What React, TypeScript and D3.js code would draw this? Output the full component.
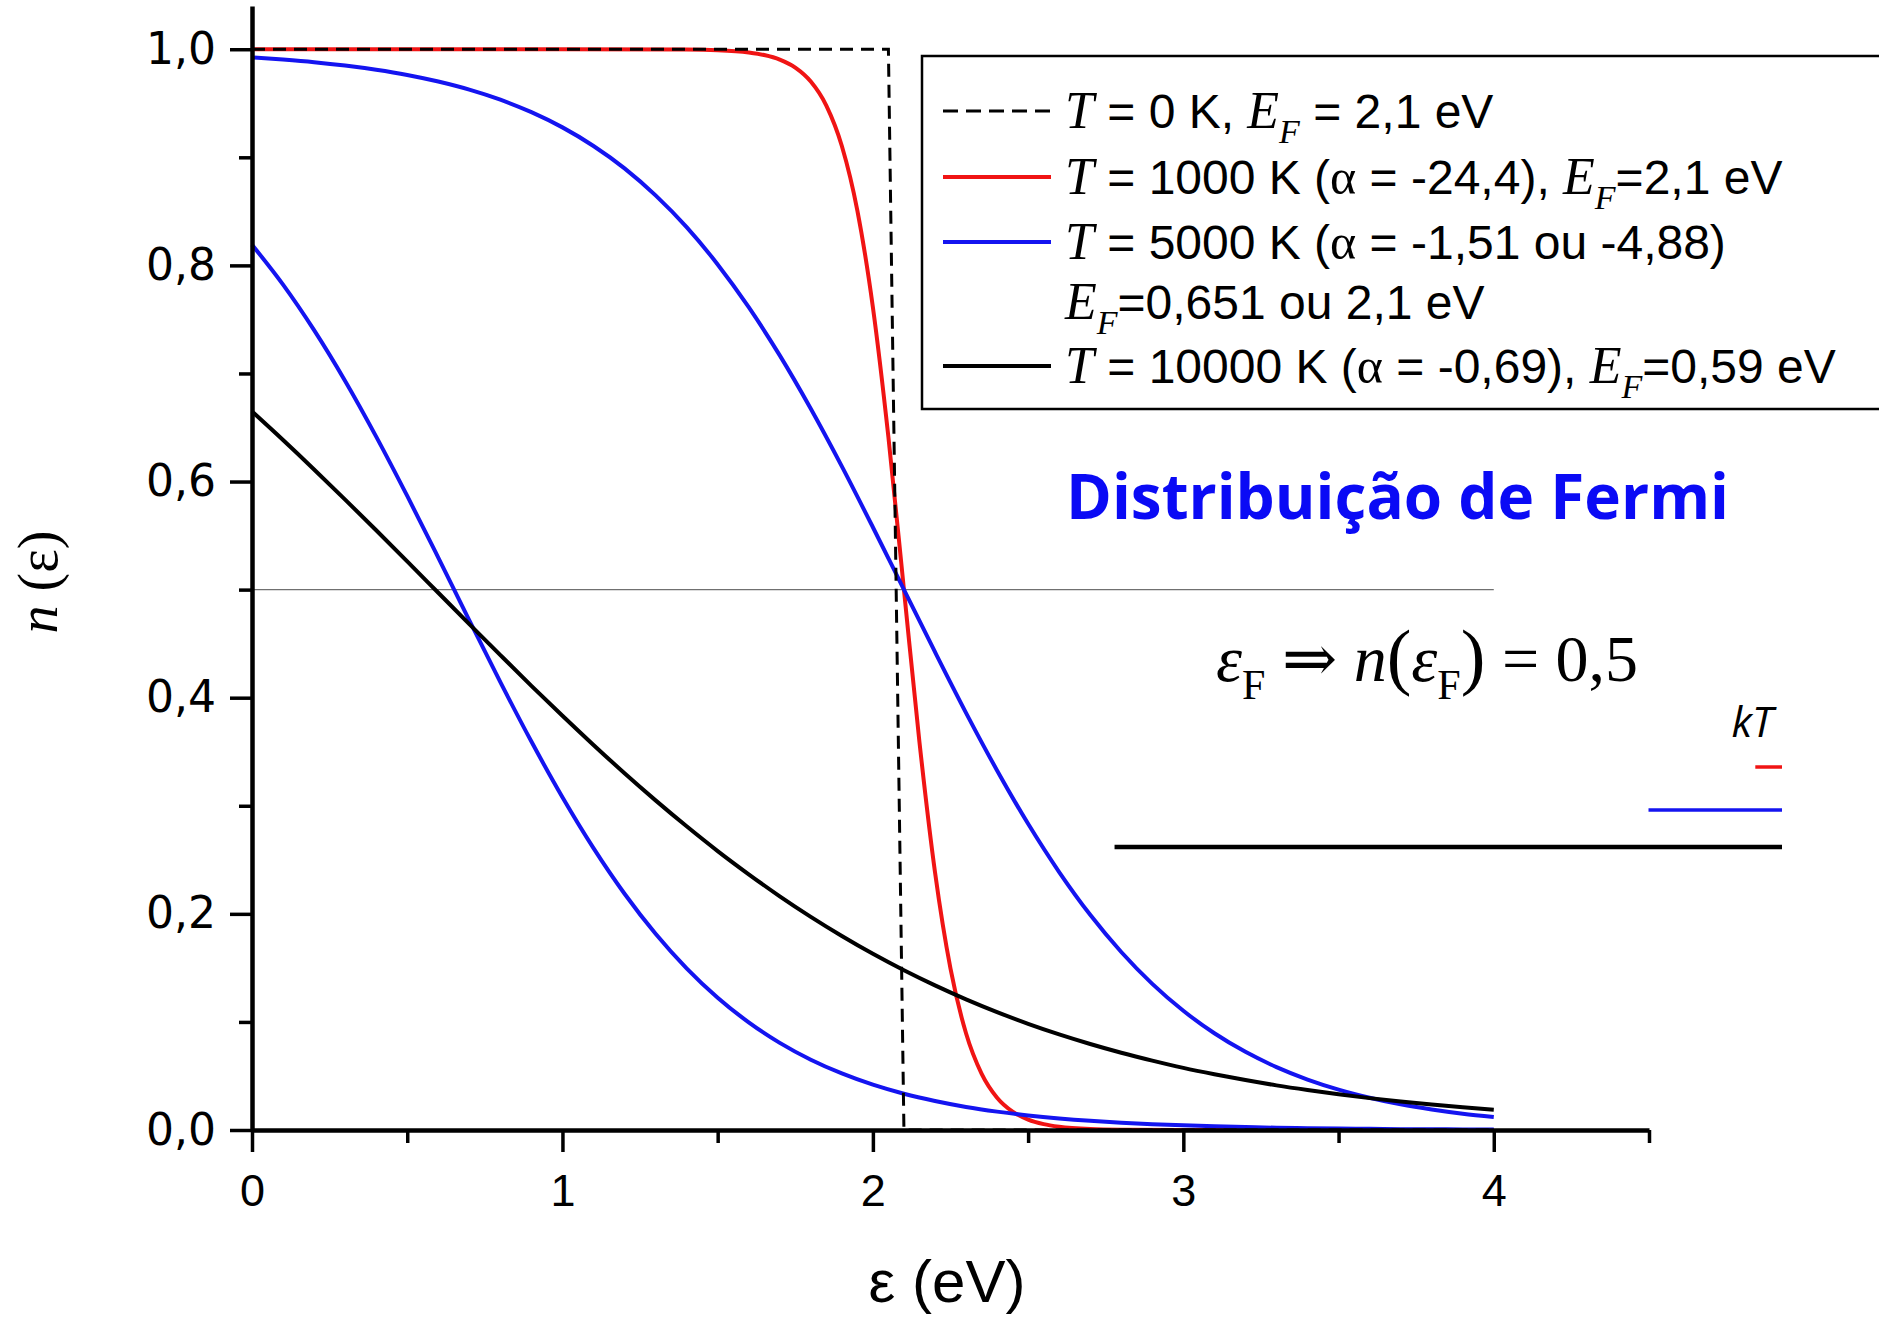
import React, { Component } from 'react';
import * as d3 from 'd3';

// energy grid (eV) shared by the 5000 K and 10000 K curves
const energies = [0, 0.1, 0.2, 0.3, 0.4, 0.5, 0.6, 0.7, 0.8, 0.9,
  1.0, 1.1, 1.2, 1.3, 1.4, 1.5, 1.6, 1.7, 1.8, 1.9,
  2.0, 2.1, 2.2, 2.3, 2.4, 2.5, 2.6, 2.7, 2.8, 2.9,
  3.0, 3.1, 3.2, 3.3, 3.4, 3.5, 3.6, 3.7, 3.8, 3.9, 4.0];

// T = 5000 K, EF = 2,1 eV
const n5000High = [0.9924, 0.9904, 0.988, 0.9849, 0.981, 0.9762, 0.9701, 0.9626, 0.9533, 0.9418,
  0.9277, 0.9105, 0.8898, 0.8648, 0.8354, 0.8009, 0.7613, 0.7167, 0.6673, 0.614,
  0.5577, 0.5, 0.4423, 0.386, 0.3327, 0.2833, 0.2387, 0.1991, 0.1647, 0.1352,
  0.1103, 0.0895, 0.0723, 0.0582, 0.0467, 0.0374, 0.0299, 0.0238, 0.019, 0.0151, 0.012];

// T = 5000 K, EF = 0,651 eV
const n5000Low = [0.8191, 0.7822, 0.7401, 0.6931, 0.6416, 0.5867, 0.5296, 0.4716, 0.4144, 0.3594,
  0.3079, 0.2608, 0.2186, 0.1816, 0.1496, 0.1224, 0.0996, 0.0806, 0.065, 0.0523,
  0.0419, 0.0335, 0.0268, 0.0213, 0.017, 0.0135, 0.0107, 0.0085, 0.0068, 0.0054,
  0.0043, 0.0034, 0.0027, 0.0021, 0.0017, 0.0013, 0.0011, 0.0008, 0.0007, 0.0005, 0.0004];

// T = 10000 K, EF = 0,59 eV
const n10000 = [0.6648, 0.6384, 0.6112, 0.5833, 0.5549, 0.5261, 0.4971, 0.4681, 0.4394, 0.411,
  0.3833, 0.3563, 0.3301, 0.305, 0.281, 0.2581, 0.2366, 0.2162, 0.1972, 0.1795,
  0.163, 0.1478, 0.1338, 0.1209, 0.1091, 0.0983, 0.0885, 0.0796, 0.0715, 0.0642,
  0.0575, 0.0516, 0.0462, 0.0413, 0.037, 0.0331, 0.0295, 0.0264, 0.0236, 0.021, 0.0188];

// T = 1000 K, EF = 2,1 eV (finer grid near the step)
const energies1000 = [0, 1.0, 1.4, 1.5, 1.6, 1.65, 1.7, 1.75, 1.8, 1.85, 1.9, 1.95, 2.0, 2.05,
  2.1, 2.15, 2.2, 2.25, 2.3, 2.35, 2.4, 2.45, 2.5, 2.55, 2.6, 2.7, 2.8, 3.0, 3.5, 4.0];
const n1000 = [1, 1, 0.9997, 0.9991, 0.997, 0.9946, 0.9904, 0.983, 0.9701, 0.9479, 0.9105, 0.8507, 0.7613, 0.6411,
  0.5, 0.3589, 0.2387, 0.1493, 0.0895, 0.0522, 0.0299, 0.017, 0.0096, 0.0054, 0.003, 0.0009, 0.0003, 0, 0, 0];

// T = 0 K step
const energies0 = [0, 2.05, 2.1, 4.0];
const n0 = [1, 1, 0, 0];

// kT bars as drawn (eV): 1000 K, 5000 K, 10000 K
const kTLengths = [0.086, 0.43, 2.15];

const yMajor = [0, 0.2, 0.4, 0.6, 0.8, 1.0];
const yMinor = [0.1, 0.3, 0.5, 0.7, 0.9];
const xMajor = [0, 1, 2, 3, 4];
const xMinor = [0.5, 1.5, 2.5, 3.5, 4.5];

// legend rows: [kind, text] pieces
const legendRows = [
  [['ti', 'T'], ['sans', ' = 0 K, '], ['ti', 'E'], ['sub', 'F'], ['sans', ' = 2,1 eV']],
  [['ti', 'T'], ['sans', ' = 1000 K ('], ['gr', 'α'], ['sans', ' = -24,4), '], ['ti', 'E'], ['sub', 'F'], ['sans', '=2,1 eV']],
  [['ti', 'T'], ['sans', ' = 5000 K ('], ['gr', 'α'], ['sans', ' = -1,51 ou -4,88)']],
  [['ti', 'E'], ['sub', 'F'], ['sans', '=0,651 ou 2,1 eV']],
  [['ti', 'T'], ['sans', ' = 10000 K ('], ['gr', 'α'], ['sans', ' = -0,69), '], ['ti', 'E'], ['sub', 'F'], ['sans', '=0,59 eV']]
];

const RED = '#f01414';
const BLUE = '#1414f0';

class FermiPlot extends Component {
  constructor(props) {
    super(props);
    this.myRef = React.createRef();
    this.width = 1879;
    this.height = 1317;
  }

  componentDidMount() {
    const root = d3.select(this.myRef.current);
    root.selectAll('*').remove();

    const svg = root.append('svg')
      .attr('width', this.width)
      .attr('height', this.height)
      .style('display', 'block');

    svg.append('rect').attr('width', this.width).attr('height', this.height).attr('fill', '#fff');

    const x = d3.scaleLinear().domain([0, 4.5]).range([252, 1649]);
    const y = d3.scaleLinear().domain([0, 1.04]).range([1130, 6]);

    const line = d3.line()
      .x(d => x(d[0]))
      .y(d => y(d[1]))
      .curve(d3.curveMonotoneX);

    // n = 0.5 guide
    svg.append('line')
      .attr('x1', x(0)).attr('x2', x(4))
      .attr('y1', y(0.5)).attr('y2', y(0.5))
      .attr('stroke', '#707070')
      .attr('stroke-width', 1.2);

    const series = [
      { xs: energies1000, ys: n1000, color: RED, w: 4 },
      { xs: energies, ys: n5000High, color: BLUE, w: 4 },
      { xs: energies, ys: n5000Low, color: BLUE, w: 4 },
      { xs: energies, ys: n10000, color: '#000', w: 4 }
    ];
    series.forEach(s => {
      svg.append('path')
        .datum(s.xs.map((e, i) => [e, s.ys[i]]))
        .attr('fill', 'none')
        .attr('stroke', s.color)
        .attr('stroke-width', s.w)
        .attr('stroke-linejoin', 'round')
        .attr('d', line);
    });

    svg.append('path')
      .datum(energies0.map((e, i) => [e, n0[i]]))
      .attr('fill', 'none')
      .attr('stroke', '#000')
      .attr('stroke-width', 3)
      .attr('stroke-dasharray', '13,8')
      .attr('d', d3.line().x(d => x(d[0])).y(d => y(d[1])));

    // axes
    const fmt = d => d3.format('.1f')(d).replace('.', ',');

    const yAxis = svg.append('g')
      .attr('transform', 'translate(' + x(0) + ',0)')
      .call(d3.axisLeft(y).tickValues(yMajor).tickSize(22).tickPadding(14).tickSizeOuter(0).tickFormat(fmt));
    yAxis.select('.domain').attr('stroke-width', 4.5);
    yAxis.selectAll('.tick line').attr('stroke-width', 3.5);
    yAxis.selectAll('.tick text')
      .attr('font-family', '"DejaVu Sans", sans-serif')
      .attr('font-size', 44)
      .attr('fill', '#000');

    const yMin = svg.append('g')
      .attr('transform', 'translate(' + x(0) + ',0)')
      .call(d3.axisLeft(y).tickValues(yMinor).tickSize(13).tickFormat(() => ''));
    yMin.select('.domain').remove();
    yMin.selectAll('.tick line').attr('stroke-width', 3.5);

    const xAxis = svg.append('g')
      .attr('transform', 'translate(0,' + y(0) + ')')
      .call(d3.axisBottom(x).tickValues(xMajor).tickSize(22).tickPadding(22).tickSizeOuter(0).tickFormat(d3.format('d')));
    xAxis.select('.domain').attr('stroke-width', 4.5);
    xAxis.selectAll('.tick line').attr('stroke-width', 3.5);
    xAxis.selectAll('.tick text')
      .attr('font-family', '"Liberation Sans", Arial, sans-serif')
      .attr('font-size', 45)
      .attr('fill', '#000');

    const xMin = svg.append('g')
      .attr('transform', 'translate(0,' + y(0) + ')')
      .call(d3.axisBottom(x).tickValues(xMinor).tickSize(13).tickFormat(() => ''));
    xMin.select('.domain').remove();
    xMin.selectAll('.tick line').attr('stroke-width', 3.5);

    // axis titles
    svg.append('text')
      .attr('x', 947).attr('y', 1302)
      .attr('text-anchor', 'middle')
      .attr('font-family', '"Liberation Sans", Arial, sans-serif')
      .attr('font-size', 60)
      .text('ε (eV)');

    const yl = svg.append('text')
      .attr('transform', 'translate(57,582) rotate(-90)')
      .attr('text-anchor', 'middle')
      .attr('font-family', '"Liberation Serif", serif')
      .attr('font-size', 56);
    yl.append('tspan').attr('font-style', 'italic').text('n');
    yl.append('tspan').text(' (ε)');

    // legend
    svg.append('rect')
      .attr('x', 922).attr('y', 56)
      .attr('width', 1000).attr('height', 353)
      .attr('fill', 'none')
      .attr('stroke', '#000')
      .attr('stroke-width', 2.5);

    const rowBase = [128, 194, 259, 319, 383];
    const sampleStyle = [
      { color: '#000', dash: '15,8' },
      { color: RED, dash: null },
      { color: BLUE, dash: null },
      null,
      { color: '#000', dash: null }
    ];

    legendRows.forEach((row, i) => {
      const s = sampleStyle[i];
      if (s) {
        svg.append('line')
          .attr('x1', 943).attr('x2', 1051)
          .attr('y1', rowBase[i] - 17).attr('y2', rowBase[i] - 17)
          .attr('stroke', s.color)
          .attr('stroke-width', s.dash ? 3 : 4)
          .attr('stroke-dasharray', s.dash);
      }
      const t = svg.append('text')
        .attr('x', 1065).attr('y', rowBase[i])
        .attr('font-family', '"Liberation Sans", Arial, sans-serif')
        .attr('font-size', 48);
      let shifted = false;
      row.forEach(([kind, str]) => {
        const sp = t.append('tspan').text(str);
        if (kind === 'ti') {
          sp.attr('font-family', '"Liberation Serif", serif').attr('font-style', 'italic').attr('font-size', 52);
        } else if (kind === 'gr') {
          sp.attr('font-family', '"Liberation Serif", serif').attr('font-size', 50);
        } else if (kind === 'sub') {
          sp.attr('font-family', '"Liberation Serif", serif').attr('font-style', 'italic')
            .attr('font-size', 34).attr('dy', 15);
          shifted = true;
          return;
        }
        if (shifted) {
          sp.attr('dy', -15);
          shifted = false;
        }
      });
    });

    // title
    svg.append('text')
      .attr('x', 1066).attr('y', 519)
      .attr('font-family', '"Open Sans", sans-serif')
      .attr('font-weight', 700)
      .attr('font-size', 62)
      .attr('fill', '#0a0af5')
      .text('Distribuição de Fermi');

    // εF => n(εF) = 0,5
    const f = svg.append('text')
      .attr('x', 1216).attr('y', 681)
      .attr('font-family', '"Liberation Serif", "DejaVu Serif", serif')
      .attr('font-size', 66);
    f.append('tspan').attr('font-style', 'italic').text('ε');
    f.append('tspan').attr('font-size', 42).attr('dy', 18).text('F');
    f.append('tspan').attr('dy', -18).text(' ⇒ ');
    f.append('tspan').attr('font-style', 'italic').text('n');
    f.append('tspan').attr('font-size', 74).text('(');
    f.append('tspan').attr('font-style', 'italic').text('ε');
    f.append('tspan').attr('font-size', 42).attr('dy', 18).text('F');
    f.append('tspan').attr('font-size', 74).attr('dy', -18).text(')');
    f.append('tspan').text(' = 0,5');

    // kT scale bars
    svg.append('text')
      .attr('x', 1773).attr('y', 737)
      .attr('text-anchor', 'end')
      .attr('font-family', '"Open Sans", sans-serif')
      .attr('font-style', 'italic')
      .attr('font-size', 42)
      .text('kT');

    const barEnd = x.invert(1782);
    const barY = [767, 810, 847];
    const barColor = [RED, BLUE, '#000'];
    kTLengths.forEach((len, i) => {
      svg.append('line')
        .attr('x1', x(barEnd - len)).attr('x2', x(barEnd))
        .attr('y1', barY[i]).attr('y2', barY[i])
        .attr('stroke', barColor[i])
        .attr('stroke-width', i === 2 ? 4.5 : 3.5);
    });
  }

  render() {
    return (
      <div ref={this.myRef}
           style={{position: 'absolute', left: 0, top: 0,
                   width: this.width, height: this.height}}>
      </div>
    );
  }
}

export default function App() {
  return <FermiPlot />;
}
